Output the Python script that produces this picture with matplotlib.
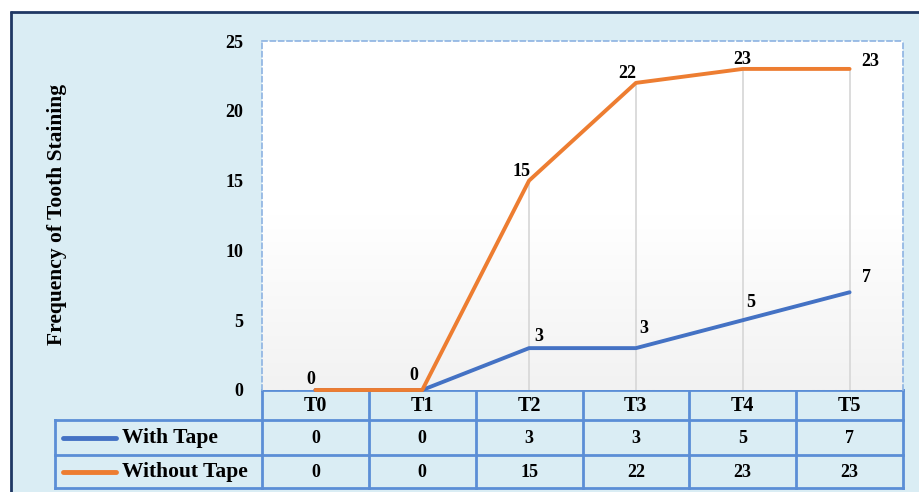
import matplotlib
matplotlib.use('Agg')
import matplotlib.pyplot as plt
import numpy as np
from matplotlib.patches import Rectangle
from matplotlib.colors import LinearSegmentedColormap

categories = ['T0', 'T1', 'T2', 'T3', 'T4', 'T5']
with_tape = [0, 0, 3, 3, 5, 7]
without_tape = [0, 0, 15, 22, 23, 23]
series_names = ['With Tape', 'Without Tape']
y_ticks = [0, 5, 10, 15, 20, 25]
y_label = 'Frequency of Tooth Staining'

FONT = 'Liberation Serif'
plt.rcParams['font.family'] = [FONT, 'DejaVu Serif']
plt.rcParams['font.weight'] = 'bold'

W, H = 919, 492
fig = plt.figure(figsize=(W / 100, H / 100), dpi=100)
fig.patch.set_facecolor('white')

BLUE = '#4472C4'
ORANGE = '#ED7D31'
BG = '#DAEDF4'
GRID = '#5B8ED6'

# background overlay in pixel coordinates
bg = fig.add_axes([0, 0, 1, 1])
bg.set_xlim(0, W)
bg.set_ylim(H, 0)
bg.axis('off')
bg.add_patch(Rectangle((11, 12), W, H, facecolor=BG, edgecolor='none'))
bg.plot([11, 11], [H, 11], color='#1F3864', lw=2, solid_capstyle='butt')
bg.plot([10, W], [12, 12], color='#1F3864', lw=2, solid_capstyle='butt')

# plot area
PL, PR, PT, PB = 262, 903, 41, 390
ax = fig.add_axes([PL / W, (H - PB) / H, (PR - PL) / W, (PB - PT) / H])
n = len(categories)
ax.set_xlim(-0.5, n - 0.5)
ax.set_ylim(0, 25)
cmap = LinearSegmentedColormap.from_list('g', ['#FFFFFF', '#FFFFFF', '#F2F2F2'])
ax.imshow(np.linspace(0, 1, 256).reshape(-1, 1), cmap=cmap, aspect='auto',
          extent=(-0.5, n - 0.5, 0, 25), origin='upper', zorder=0)
for s in ['top', 'left', 'right']:
    ax.spines[s].set_linestyle((0, (3, 2)))
    ax.spines[s].set_color('#8DB3E2')
    ax.spines[s].set_linewidth(1.2)
ax.spines['bottom'].set_visible(False)
ax.set_xticks([])
ax.set_yticks(y_ticks)
ax.set_yticklabels([str(t) for t in y_ticks], fontsize=13, fontweight='bold')
ax.tick_params(axis='y', length=0, pad=13.5)

x = np.arange(n)
for i in range(n):
    top = max(with_tape[i], without_tape[i])
    if top > 0:
        ax.plot([i, i], [0, top], color='#D9D9D9', lw=1.3, zorder=1)

ax.plot(x, with_tape, color=BLUE, lw=2.8, solid_capstyle='round', zorder=3, clip_on=False)
ax.plot(x, without_tape, color=ORANGE, lw=2.8, solid_capstyle='round', zorder=4, clip_on=False)

# data labels (offsets in pixels -> points)
px = 0.72
wt_off = [(-5, 10), (-8, 15), (10, 12), (8, 20), (8, 18), (17, 15)]
wo_off = [(-5, 10), (-8, 15), (-8, 9), (-9, 9), (0, 9), (21, 7)]
for i in range(n):
    if with_tape[i] != 0:
        ax.annotate(str(with_tape[i]), (x[i], with_tape[i]),
                    xytext=(wt_off[i][0] * px, wt_off[i][1] * px), textcoords='offset points',
                    ha='center', va='center', fontsize=13, fontweight='bold', annotation_clip=False)
    ax.annotate(str(without_tape[i]), (x[i], without_tape[i]),
                xytext=(wo_off[i][0] * px, wo_off[i][1] * px), textcoords='offset points',
                ha='center', va='center', fontsize=13, fontweight='bold', annotation_clip=False, zorder=5)

fig.text(57 / W, (H - 214) / H, y_label, rotation=90, ha='center', va='center',
         fontsize=15.5, fontweight='bold')

# data table
LX = 55
col_w = (PR - PL) / n
edges = [PL + col_w * k for k in range(n + 1)]
R0, R1, R2, R3 = 390, 420, 455, 488
lw = 2
bg.plot([PL, PR], [R0, R0], color=GRID, lw=lw, zorder=2)
for yy in (R1, R2, R3):
    bg.plot([LX, PR], [yy, yy], color=GRID, lw=lw, zorder=2)
bg.plot([LX, LX], [R1, R3], color=GRID, lw=lw, zorder=2)
for e in edges:
    bg.plot([e, e], [R0, R3], color=GRID, lw=lw, zorder=2)

for k, c in enumerate(categories):
    cx = (edges[k] + edges[k + 1]) / 2
    bg.text(cx, (R0 + R1) / 2 + 1, c, ha='center', va='center', fontsize=14.5, fontweight='bold')
    bg.text(cx, (R1 + R2) / 2 + 1, str(with_tape[k]), ha='center', va='center', fontsize=13, fontweight='bold')
    bg.text(cx, (R2 + R3) / 2 + 1, str(without_tape[k]), ha='center', va='center', fontsize=13, fontweight='bold')

for name, color, (ya, yb) in zip(series_names, [BLUE, ORANGE], [(R1, R2), (R2, R3)]):
    ym = (ya + yb) / 2
    bg.plot([63, 116], [ym, ym], color=color, lw=3.5, solid_capstyle='round', zorder=3)
    bg.text(122, ym, name, ha='left', va='center', fontsize=15.5, fontweight='bold')

fig.savefig('out.png', dpi=100, facecolor=fig.get_facecolor())
